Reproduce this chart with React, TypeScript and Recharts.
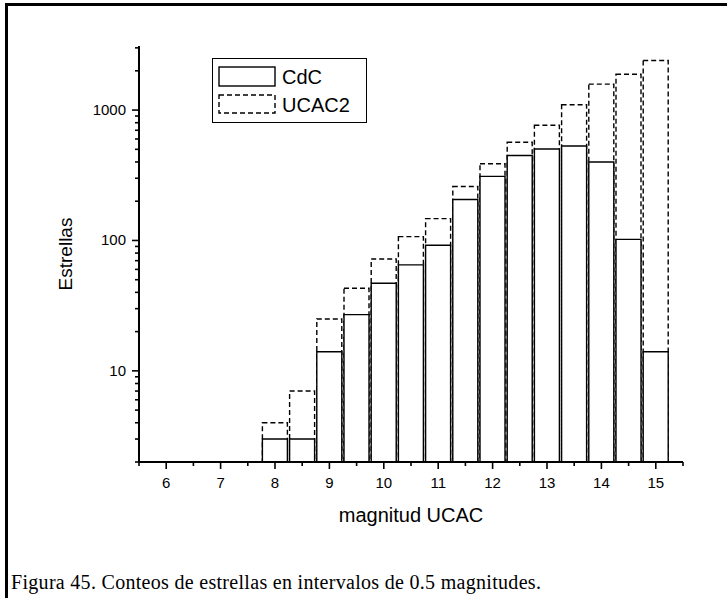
import React from 'react';
import { BarChart, Bar, XAxis, YAxis } from 'recharts';

// Magnitude bin centres (0.5 mag bins)
const magnitudes = [8, 8.5, 9, 9.5, 10, 10.5, 11, 11.5, 12, 12.5, 13, 13.5, 14, 14.5, 15];
// Star counts per bin
const cdcCounts = [3, 3, 14, 27, 47, 65, 92, 206, 310, 448, 503, 530, 400, 102, 14];
const ucac2Counts = [4, 7, 25, 43, 72, 107, 147, 259, 388, 566, 764, 1099, 1580, 1880, 2400];

const xTicks = [5.5, 6, 6.5, 7, 7.5, 8, 8.5, 9, 9.5, 10, 10.5, 11, 11.5, 12, 12.5, 13, 13.5, 14, 14.5, 15, 15.5];
const xLabelTicks = [6, 7, 8, 9, 10, 11, 12, 13, 14, 15];
const yTicks = [2, 3, 4, 5, 6, 7, 8, 9, 10, 20, 30, 40, 50, 60, 70, 80, 90, 100, 200, 300, 400, 500, 600, 700, 800, 900, 1000, 2000, 3000];
const yLabelTicks = [10, 100, 1000];

const seriesNames = ['CdC', 'UCAC2'];

const data = magnitudes.map((m, i) => ({ mag: m, cdc: cdcCounts[i], ucac2: ucac2Counts[i] }));

const SANS = '"Liberation Sans", Arial, Helvetica, sans-serif';
const SERIF = '"Liberation Serif", "Times New Roman", serif';

const XTick = (props: any) => {
  const { x, y, payload } = props;
  const v = payload.value;
  const major = xLabelTicks.includes(v);
  return (
    <g>
      <line x1={x} x2={x} y1={y} y2={y + (major ? 7 : 4)} stroke="#000" strokeWidth={1.6} />
      {major && (
        <text x={x} y={y + 26} textAnchor="middle" fontFamily={SANS} fontSize={15} fill="#000">
          {v}
        </text>
      )}
    </g>
  );
};

const YTick = (props: any) => {
  const { x, y, payload } = props;
  const v = payload.value;
  const major = yLabelTicks.includes(v);
  return (
    <g>
      <line x1={x} x2={x - (major ? 7 : 4)} y1={y} y2={y} stroke="#000" strokeWidth={1.6} />
      {major && (
        <text x={x - 13} y={y + 5} textAnchor="end" fontFamily={SANS} fontSize={15} fill="#000">
          {v}
        </text>
      )}
    </g>
  );
};

const LegendBox = () => (
  <div
    style={{
      position: 'absolute',
      left: 212,
      top: 58,
      width: 155,
      height: 65,
      boxSizing: 'border-box',
      border: '1.3px solid #000',
      background: '#fff',
    }}
  >
    <svg width={155} height={65} style={{ position: 'absolute', left: -1, top: -1 }}>
      <rect x={7} y={9} width={56} height={19} fill="none" stroke="#000" strokeWidth={1.4} />
      <rect x={7} y={37} width={56} height={18} fill="none" stroke="#000" strokeWidth={1.4} strokeDasharray="5 3" />
      <text x={70} y={26} fontFamily={SANS} fontSize={20} fill="#000">{seriesNames[0]}</text>
      <text x={70} y={54} fontFamily={SANS} fontSize={20} fill="#000">{seriesNames[1]}</text>
    </svg>
  </div>
);

export default function App() {
  return (
    <div style={{ position: 'fixed', left: 0, top: 0, width: 727, height: 598, background: '#fff', overflow: 'hidden' }}>
      <div style={{ position: 'absolute', left: 0, top: 0 }}>
        <BarChart
          width={727}
          height={598}
          data={data}
          margin={{ top: 46, right: 44, bottom: 106, left: 79 }}
          barSize={25}
          barGap={-25}
        >
          <XAxis
            dataKey="mag"
            type="number"
            domain={[5.5, 15.5]}
            ticks={xTicks}
            interval={0}
            allowDataOverflow
            height={30}
            tickSize={0}
            tickMargin={0}
            tickLine={false}
            axisLine={{ stroke: '#000', strokeWidth: 2 }}
            tick={<XTick />}
          />
          <YAxis
            type="number"
            scale="log"
            domain={[2, 3100]}
            ticks={yTicks}
            interval={0}
            allowDataOverflow
            width={60}
            tickSize={0}
            tickMargin={0}
            tickLine={false}
            axisLine={{ stroke: '#000', strokeWidth: 2 }}
            tick={<YTick />}
          />
          <Bar
            dataKey="ucac2"
            name={seriesNames[1]}
            fill="#fff"
            stroke="#000"
            strokeWidth={1.4}
            strokeDasharray="5 3"
            isAnimationActive={false}
          />
          <Bar
            dataKey="cdc"
            name={seriesNames[0]}
            fill="#fff"
            stroke="#000"
            strokeWidth={1.4}
            isAnimationActive={false}
          />
        </BarChart>
      </div>
      <LegendBox />
      <div
        style={{
          position: 'absolute',
          left: 0,
          top: 504,
          width: 822,
          textAlign: 'center',
          fontFamily: SANS,
          fontSize: 20,
          color: '#000',
        }}
      >
        magnitud UCAC
      </div>
      <div
        style={{
          position: 'absolute',
          left: 66,
          top: 254,
          transform: 'translate(-50%, -50%) rotate(-90deg)',
          fontFamily: SANS,
          fontSize: 19,
          color: '#000',
          whiteSpace: 'nowrap',
        }}
      >
        Estrellas
      </div>
      <div
        style={{
          position: 'absolute',
          left: 11,
          top: 571,
          fontFamily: SERIF,
          fontSize: 20,
          letterSpacing: 0.3,
          color: '#000',
          whiteSpace: 'nowrap',
        }}
      >
        Figura 45. Conteos de estrellas en intervalos de 0.5 magnitudes.
      </div>
      <div style={{ position: 'absolute', left: 5, top: 3, width: 722, height: 3, background: '#000', zIndex: 10 }} />
      <div style={{ position: 'absolute', left: 5, top: 3, width: 3, height: 595, background: '#000', zIndex: 10 }} />
    </div>
  );
}
